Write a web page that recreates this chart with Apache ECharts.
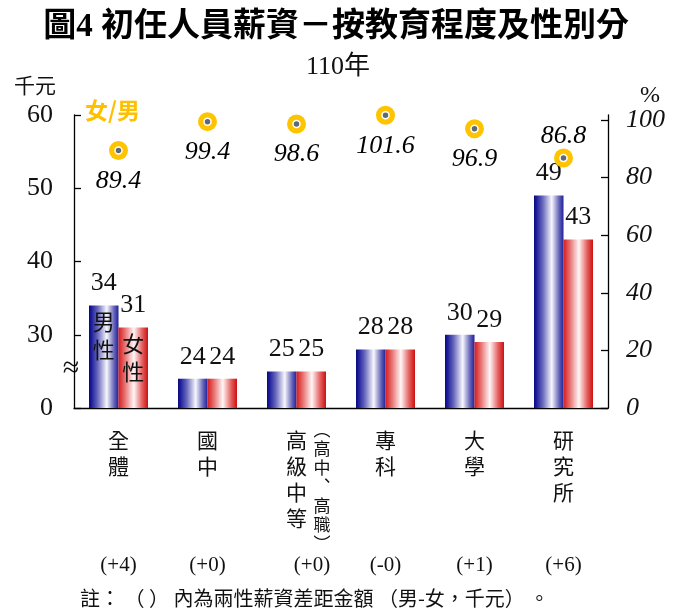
<!DOCTYPE html>
<html><head><meta charset="utf-8">
<script src="https://cdn.jsdelivr.net/npm/echarts@6/dist/echarts.min.js"></script>
<style>html,body{margin:0;padding:0;background:#fff}#c{width:687px;height:615px}</style>
</head><body><div id="c"></div>
<script>
const categories = ['全體','國中','高級中等','專科','大學','研究所'];
const subNotes = ['','','(高中、高職)','','',''];
const maleValues = [34,24,25,28,30,49];
const femaleValues = [31,24,25,28,29,43];
const ratioValues = [89.4,99.4,98.6,101.6,96.9,86.8];
const diffLabels = ['(+4)','(+0)','(+0)','(-0)','(+1)','(+6)'];
const leftTicks = [20,30,40,50,60];   // 20 is shown as "0" (broken axis)
const rightTicks = [0,20,40,60,80,100];

const SERIF = "'Liberation Serif','Noto Sans CJK TC',serif";
const CJK = "'Noto Sans CJK TC','Liberation Serif',sans-serif";
const BAR_W = 29.5;

const toVertical = s => s.replace(/\(/g,'︵').replace(/\)/g,'︶').replace(/、/g,'︑').split('').join('\n');

const maleGrad = {type:'linear',x:0,y:0,x2:1,y2:0,colorStops:[
  {offset:0,color:'#08087f'},{offset:0.08,color:'#1c1c9a'},{offset:0.3,color:'#6a6abd'},
  {offset:0.6,color:'#f7f7fd'},{offset:0.85,color:'#6464b8'},{offset:1,color:'#20209c'}]};
const femaleGrad = {type:'linear',x:0,y:0,x2:1,y2:0,colorStops:[
  {offset:0,color:'#d41c1c'},{offset:0.2,color:'#e66a6a'},{offset:0.52,color:'#fff6f6'},
  {offset:0.8,color:'#e56060'},{offset:1,color:'#cc1010'}]};

const chart = echarts.init(document.getElementById('c'), null, {renderer:'canvas'});

const option = {
  animation:false,
  backgroundColor:'#fff',
  grid:{left:74,right:79,top:115,bottom:207,containLabel:false},
  xAxis:[
    {type:'category',data:categories,position:'bottom',
     axisLine:{show:true,lineStyle:{color:'#000',width:1.3}},axisTick:{show:false},
     axisLabel:{interval:0,formatter:v=>v.split('').join('\n'),fontFamily:CJK,fontSize:21,lineHeight:26,color:'#111',margin:19},
     splitLine:{show:false}},
    {type:'category',data:categories,position:'bottom',
     axisLine:{show:false},axisTick:{show:false},splitLine:{show:false},
     axisLabel:{interval:0,formatter:(v,i)=>subNotes[i]?toVertical(subNotes[i]):'',align:'left',padding:[0,0,0,17],
       fontFamily:CJK,fontSize:17,lineHeight:19,color:'#111',margin:12}},
    {type:'category',data:categories,position:'bottom',
     axisLine:{show:false},axisTick:{show:false},splitLine:{show:false},
     axisLabel:{interval:0,formatter:(v,i)=>i===2?'{p|'+diffLabels[i]+'}':'{n|'+diffLabels[i]+'}',
       rich:{p:{fontFamily:SERIF,fontSize:21,color:'#111',padding:[0,0,0,31]},n:{fontFamily:SERIF,fontSize:21,color:'#111'}},
       margin:147}}
  ],
  yAxis:[
    {type:'value',min:20,max:60,interval:10,position:'left',
     axisLine:{show:true,lineStyle:{color:'#000',width:1.3}},
     axisTick:{show:true,inside:true,length:7,lineStyle:{color:'#000',width:1.3}},
     splitLine:{show:false},
     axisLabel:{formatter:v=>v===leftTicks[0]?'0':String(v),fontFamily:SERIF,fontSize:26,color:'#111',margin:21}},
    {type:'value',min:0,max:101.7,interval:20,position:'right',
     axisLine:{show:true,lineStyle:{color:'#000',width:1.3}},
     axisTick:{show:true,inside:true,length:7,customValues:rightTicks,lineStyle:{color:'#000',width:1.3}},
     splitLine:{show:false},
     axisLabel:{customValues:rightTicks,fontFamily:SERIF,fontStyle:'italic',fontSize:26,color:'#111',margin:18}}
  ],
  series:[
    {type:'bar',name:'男性',data:maleValues,barWidth:BAR_W,barGap:'0%',xAxisIndex:0,yAxisIndex:0,
     itemStyle:{color:maleGrad},
     label:{show:true,position:'top',distance:9,fontFamily:SERIF,fontSize:26,color:'#111'}},
    {type:'bar',name:'女性',data:femaleValues,barWidth:BAR_W,barGap:'0%',xAxisIndex:0,yAxisIndex:0,
     itemStyle:{color:femaleGrad},
     label:{show:true,position:'top',distance:9,fontFamily:SERIF,fontSize:26,color:'#111'}},
    {type:'scatter',name:'女/男',data:ratioValues.map((v,i)=>i===ratioValues.length-1?{value:v,label:{position:'top',distance:-1}}:v),
     xAxisIndex:0,yAxisIndex:1,symbol:'circle',symbolSize:19,z:5,
     itemStyle:{color:'#ffc400',opacity:1},
     label:{show:true,position:'bottom',distance:8,fontFamily:SERIF,fontStyle:'italic',fontSize:26,color:'#000',opacity:1}},
    {type:'scatter',name:'dot',data:ratioValues,xAxisIndex:0,yAxisIndex:1,symbol:'circle',symbolSize:7,z:6,
     itemStyle:{color:'#5f6878',borderColor:'#ffffff',borderWidth:1.5,opacity:1},silent:true}
  ]
};
chart.setOption(option);

const pMale = chart.convertToPixel({xAxisIndex:0,yAxisIndex:0},[0,maleValues[0]]);
const pFemale = chart.convertToPixel({xAxisIndex:0,yAxisIndex:0},[0,femaleValues[0]]);

chart.setOption({graphic:[
  {type:'text',x:336,y:27,style:{text:'圖4 初任人員薪資－按教育程度及性別分',font:"bold 33px "+SERIF,fill:'#000',align:'center',verticalAlign:'middle'}},
  {type:'text',x:338,y:67,style:{text:'110年',font:"26px "+SERIF,fill:'#111',align:'center',verticalAlign:'middle'}},
  {type:'text',x:14,y:85,style:{text:'千元',font:"21px "+CJK,fill:'#111',align:'left',verticalAlign:'middle'}},
  {type:'text',x:650,y:96,style:{text:'%',font:"24px "+SERIF,fill:'#111',align:'center',verticalAlign:'middle'}},
  {type:'text',x:85,y:110,style:{text:'女/男',font:"bold 23px "+CJK,fill:'#ffc000',align:'left',verticalAlign:'middle'}},
  {type:'text',x:71,y:369,style:{text:'≈',font:"30px "+SERIF,fill:'#111',align:'center',verticalAlign:'middle'}},
  {type:'text',x:pMale[0]-BAR_W/2,y:pMale[1]+2,z:10,style:{text:'男\n性',font:"22px "+CJK,lineHeight:28,fill:'#111',align:'center',verticalAlign:'top'}},
  {type:'text',x:pFemale[0]+BAR_W/2,y:pFemale[1]+2,z:10,style:{text:'女\n性',font:"22px "+CJK,lineHeight:28,fill:'#111',align:'center',verticalAlign:'top'}},
  {type:'text',x:80,y:598,style:{text:'註： （ ） 內為兩性薪資差距金額 （男-女，千元） 。',font:"20px "+CJK,fill:'#111',align:'left',verticalAlign:'middle'}}
]});
</script></body></html>
